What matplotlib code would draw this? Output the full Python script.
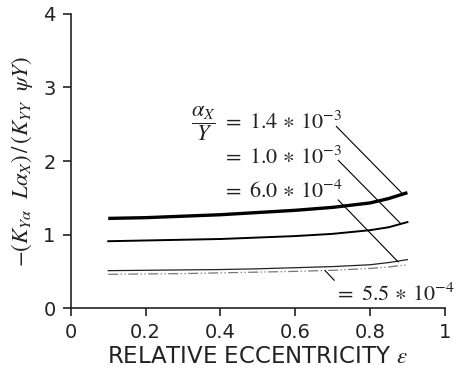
import matplotlib
matplotlib.use("Agg")
import matplotlib.pyplot as plt

eps = [0.1, 0.2, 0.3, 0.4, 0.5, 0.6, 0.7, 0.8, 0.85, 0.9]
c14 = [1.22, 1.23, 1.25, 1.27, 1.30, 1.33, 1.37, 1.43, 1.49, 1.57]
c10 = [0.91, 0.92, 0.93, 0.94, 0.96, 0.98, 1.01, 1.06, 1.10, 1.17]
c60 = [0.51, 0.515, 0.52, 0.525, 0.535, 0.55, 0.565, 0.59, 0.62, 0.66]
c55 = [0.46, 0.465, 0.47, 0.48, 0.49, 0.50, 0.515, 0.54, 0.56, 0.59]
labels = [r'$=\ 1.4\,\ast\,10^{-3}$', r'$=\ 1.0\,\ast\,10^{-3}$',
          r'$=\ 6.0\,\ast\,10^{-4}$', r'$=\ 5.5\,\ast\,10^{-4}$']
xticks = [0, 0.2, 0.4, 0.6, 0.8, 1]
xticklabels = ['0', '0.2', '0.4', '0.6', '0.8', '1']
yticks = [0, 1, 2, 3, 4]

plt.rcParams['mathtext.fontset'] = 'stix'
plt.rcParams['font.family'] = ['DejaVu Sans']

fig = plt.figure(figsize=(4.6, 3.74), dpi=100)
ax = fig.add_axes([0.154, 0.176, 0.813, 0.787])

ax.plot(eps, c14, color='black', lw=2.4, solid_capstyle='butt')
ax.plot(eps, c10, color='black', lw=1.4)
ax.plot(eps, c60, color='#222222', lw=0.9)
ax.plot(eps, c55, color='#777777', lw=0.9, ls=(0, (8, 2, 1, 2, 1, 2)))

# leader lines
ax.plot([0.71, 0.884], [2.47, 1.57], color='black', lw=0.8)
ax.plot([0.715, 0.88], [2.01, 1.16], color='black', lw=0.8)
ax.plot([0.715, 0.875], [1.47, 0.63], color='black', lw=0.8)
ax.plot([0.68, 0.704], [0.51, 0.38], color='black', lw=0.8)

ts = 16
tc = '#222222'
ax.text(0.354, 2.51, r'$\dfrac{\alpha_X}{Y}$', fontsize=ts, ha='center', va='center', color=tc)
ax.text(0.403, 2.54, labels[0], fontsize=ts, ha='left', va='center', color=tc)
ax.text(0.403, 2.06, labels[1], fontsize=ts, ha='left', va='center', color=tc)
ax.text(0.403, 1.59, labels[2], fontsize=ts, ha='left', va='center', color=tc)
ax.text(0.703, 0.20, labels[3], fontsize=ts, ha='left', va='center', color=tc, clip_on=False)

ax.set_xlim(0, 1)
ax.set_ylim(0, 4)
ax.set_xticks(xticks)
ax.set_xticklabels(xticklabels)
ax.set_yticks(yticks)
for s in ['top', 'right']:
    ax.spines[s].set_visible(False)
for s in ['left', 'bottom']:
    ax.spines[s].set_color(tc)
    ax.spines[s].set_linewidth(1.2)
ax.tick_params(direction='out', length=6, width=1.2, colors=tc, labelsize=14, pad=5)

ax.set_xlabel(r'RELATIVE ECCENTRICITY $\varepsilon$', fontsize=16.5, color=tc, labelpad=2)
ax.set_ylabel(r'$-(K_{Y\alpha}\ \ L\alpha_X)\,/\,(K_{YY}\ \ \psi Y)$', fontsize=16.5, color=tc, labelpad=6)

fig.savefig('out.png', dpi=100)
